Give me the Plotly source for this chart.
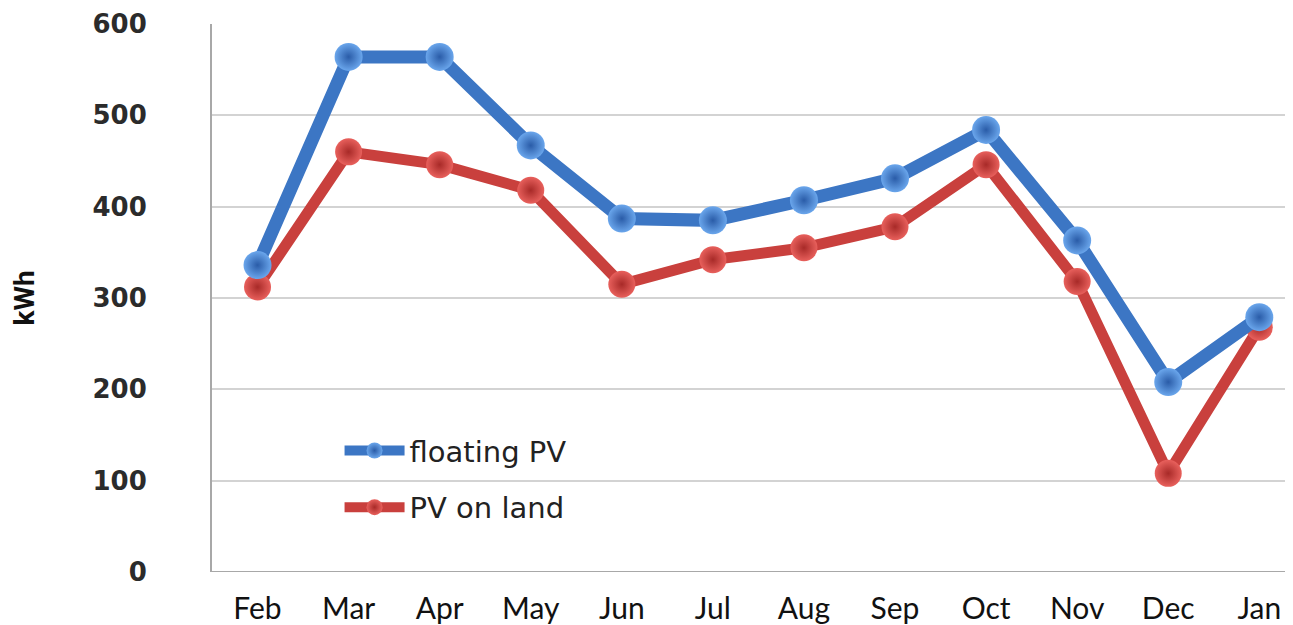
import plotly.graph_objects as go

months = ["Feb", "Mar", "Apr", "May", "Jun", "Jul", "Aug", "Sep", "Oct", "Nov", "Dec", "Jan"]
floating_pv = [336, 564, 564, 467, 387, 385, 407, 431, 484, 363, 208, 279]
pv_on_land = [312, 460, 446, 418, 315, 342, 355, 378, 446, 318, 108, 268]
y_ticks = [0, 100, 200, 300, 400, 500, 600]

fig = go.Figure()

# red first so the blue line sits on top, like the original
fig.add_trace(go.Scatter(
    x=months,
    y=pv_on_land,
    name="PV on land",
    legendgroup="land",
    legendrank=2,
    mode="lines+markers",
    line=dict(color="#C9403D", width=11),
    marker=dict(size=27, color="#E8605C",
                gradient=dict(type="radial", color="#A82A28"),
                line=dict(width=0)),
))

fig.add_trace(go.Scatter(
    x=months,
    y=floating_pv,
    name="floating PV",
    legendgroup="floating",
    legendrank=1,
    mode="lines+markers",
    line=dict(color="#3C76C4", width=13),
    marker=dict(size=28, color="#6AA6EC",
                gradient=dict(type="radial", color="#2A5CA8"),
                line=dict(width=0)),
))

# page body has an 8px margin, so the figure is 8px smaller than the window
fig.update_layout(
    width=1285,
    height=617,
    margin=dict(l=204, r=0, t=16, b=53),
    paper_bgcolor="white",
    plot_bgcolor="white",
    showlegend=True,
    legend=dict(
        x=0.118, y=0.268,
        xanchor="left", yanchor="top",
        traceorder="grouped",
        tracegroupgap=16,
        itemwidth=60,
        bgcolor="rgba(0,0,0,0)",
        font=dict(family="DejaVu Sans", size=29, color="#222222"),
    ),
    xaxis=dict(
        range=[-0.5, 11.37],
        showgrid=False,
        showline=False,
        ticks="",
        tickfont=dict(family="Lato", size=30, color="#111111"),
        ticklabelstandoff=16,
    ),
    yaxis=dict(
        range=[0, 600],
        tickvals=y_ticks,
        showgrid=True,
        gridcolor="#D3D3D3",
        gridwidth=2,
        zeroline=False,
        showline=True,
        linecolor="#A8A8A8",
        linewidth=2,
        ticks="",
        tickfont=dict(family="DejaVu Sans", size=26, color="#2B2B2B", weight="bold"),
        ticklabelstandoff=58,
        title=dict(text="kWh", standoff=52,
                   font=dict(family="Roboto", size=28, color="#111111", weight="bold")),
    ),
)

fig.add_shape(type="line", xref="paper", yref="y", x0=0, x1=1, y0=0, y1=0,
              line=dict(color="#A8A8A8", width=2))

fig.write_html("out.html")
